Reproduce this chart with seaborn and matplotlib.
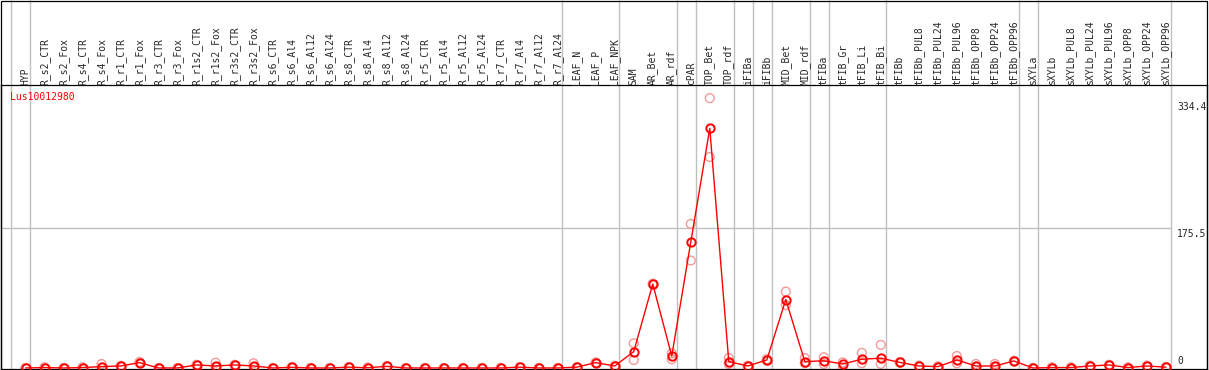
import pandas as pd
import numpy as np
import matplotlib
matplotlib.use("Agg")
import matplotlib.pyplot as plt
from matplotlib.patches import Rectangle
import seaborn as sns

# ── Data ─────────────────────────────────────────────────────────
gene = "Lus10012980"

samples = [
    "HYP",
    "R_s2_CTR", "R_s2_Fox", "R_s4_CTR", "R_s4_Fox",
    "R_r1_CTR", "R_r1_Fox", "R_r3_CTR", "R_r3_Fox",
    "R_r1s2_CTR", "R_r1s2_Fox", "R_r3s2_CTR", "R_r3s2_Fox",
    "R_s6_CTR", "R_s6_Al4", "R_s6_Al12", "R_s6_Al24",
    "R_s8_CTR", "R_s8_Al4", "R_s8_Al12", "R_s8_Al24",
    "R_r5_CTR", "R_r5_Al4", "R_r5_Al12", "R_r5_Al24",
    "R_r7_CTR", "R_r7_Al4", "R_r7_Al12", "R_r7_Al24",
    "LEAF_N", "LEAF_P", "LEAF_NPK",
    "SAM", "AR_Bet", "AR_rdf", "cPAR", "TOP_Bet", "TOP_rdf",
    "iFIBa", "iFIBb", "MID_Bet", "MID_rdf",
    "tFIBa", "tFIB_Gr", "tFIB_Li", "tFIB_Bi",
    "tFIBb", "tFIBb_PUL8", "tFIBb_PUL24", "tFIBb_PUL96",
    "tFIBb_OPP8", "tFIBb_OPP24", "tFIBb_OPP96",
    "sXYLa", "sXYLb", "sXYLb_PUL8", "sXYLb_PUL24", "sXYLb_PUL96",
    "sXYLb_OPP8", "sXYLb_OPP24", "sXYLb_OPP96",
]

mean_expr = [
    0,
    0.5, 0, 0.5, 1.7,
    2.5, 6.7, 0, 0,
    3.8, 2.5, 3.8, 2.5,
    0, 0.8, 0, 0,
    1, 0.3, 2, 0,
    0, 0, 0, 0,
    0, 1, 0, 0,
    1, 6.7, 2.5,
    20.5, 105.5, 15, 158, 301, 8,
    2.5, 10, 86, 8,
    9, 5, 11, 12.3,
    7, 2.5, 1.7, 10,
    2.5, 2.5, 8.8,
    0, 0.5, 0.5, 2.5, 3.8,
    0.5, 2.5, 1,
]

rep_a = [
    0,
    0.8, 0, 0.8, 5,
    2.8, 7.5, 0, 0,
    4, 6.7, 4, 5.9,
    0, 1, 0, 0,
    1.2, 0.5, 2.5, 0,
    0, 0, 0, 0,
    0, 1.2, 0, 0,
    1.2, 7, 2.8,
    31, 106, 18.5, 181, 339, 12.5,
    2.8, 11, 96, 12.5,
    13.5, 7, 19, 29,
    7.5, 3, 2, 15,
    5, 5, 9,
    0, 0.8, 0.8, 3, 4,
    0.8, 3, 1.2,
]

rep_b = [
    0,
    0.2, 0, 0.2, 0.5,
    2.2, 6, 0, 0,
    3.5, 1, 3.5, 1,
    0, 0.5, 0, 0,
    0.8, 0.1, 1.5, 0,
    0, 0, 0, 0,
    0, 0.8, 0, 0,
    0.8, 6.4, 2.2,
    10, 105, 11, 135, 265, 5,
    2.2, 9, 79, 6,
    5, 1, 6, 5,
    6.5, 2, 1.4, 6,
    1.5, 1.5, 8.5,
    0, 0.2, 0.2, 2, 3.5,
    0.2, 2, 0.8,
]

# group boundaries (index of last sample in each group)
group_ends = [-1, 0, 28, 31, 34, 35, 37, 38, 39, 41, 42, 45, 52, 53, 60]

y_marks = [334.4, 175.5, 0]
y_labels = ["334.4", "175.5", "0"]

# ── Tables ───────────────────────────────────────────────────────
pos = np.arange(len(samples))
df_mean = pd.DataFrame({"pos": pos, "expr": mean_expr})
df_rep = pd.DataFrame({
    "pos": np.concatenate([pos, pos]),
    "expr": rep_a + rep_b,
})

# ── Figure ───────────────────────────────────────────────────────
sns.set_style("white")
plt.rcParams["font.family"] = ["DejaVu Sans Mono"]

W, H = 1209, 370
fig = plt.figure(figsize=(W / 100, H / 100), dpi=100)
ax = fig.add_axes([0.5 / W, 1 / H, 1206.5 / W, 284 / H])

x_lo, x_hi = -1.316, 62.16
ax.set_xlim(x_lo, x_hi)
ax.set_ylim(-1.3, 355.5)

grey = "#c0c0c0"
for g in group_ends:
    ax.axvline(g + 0.25, ymin=0, ymax=1 + 85 / 284, color=grey, lw=1,
               clip_on=False, zorder=0)
ax.hlines(175.5, x_lo, group_ends[-1] + 0.25, color=grey, lw=1, zorder=0)

sns.scatterplot(data=df_rep, x="pos", y="expr", marker="o", s=40,
                facecolor="none", edgecolor="#f29a9a", linewidth=1,
                ax=ax, zorder=2, legend=False)
sns.lineplot(data=df_mean, x="pos", y="expr", color="red", lw=1,
             marker="o", markersize=6, markerfacecolor="none",
             markeredgecolor="red", markeredgewidth=1.4, ax=ax, zorder=3)

# sample labels above the plot
for p, lab in zip(pos, samples):
    ax.text(p, 1.0, lab, transform=ax.get_xaxis_transform(), rotation=90,
            ha="center", va="bottom", fontsize=7, clip_on=False)
    
# value labels at the right
for v, lab in zip(y_marks, y_labels):
    va = "bottom" if v == 0 else "top"
    off = 3 if v == 0 else -0.5
    ax.text(60.6, v + off, lab, ha="left", va=va, fontsize=7)

ax.text(9 / 1206, 0.958, gene, transform=ax.transAxes, color="red",
        ha="left", va="center", fontsize=7)

ax.set_xticks([])
ax.set_yticks([])
ax.set_xlabel("")
ax.set_ylabel("")
for s in ax.spines.values():
    s.set_color("black")
    s.set_linewidth(0.9)

fig.patches.append(Rectangle((0.5 / W, 0.5 / H), 1206.5 / W, 369 / H,
                             transform=fig.transFigure, fill=False,
                             ec="black", lw=0.9))

fig.savefig("out.png", dpi=100)
